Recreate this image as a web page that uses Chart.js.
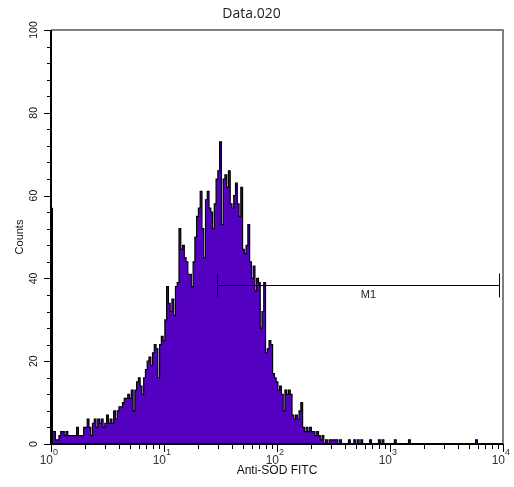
<!DOCTYPE html>
<html>
<head>
<meta charset="utf-8">
<title>Data.020</title>
<script src="https://cdn.jsdelivr.net/npm/chart.js@4.4.0/dist/chart.umd.min.js"></script>
<style>
  html, body { margin: 0; padding: 0; background: #fff; }
  #wrap { width: 514px; height: 487px; }
</style>
</head>
<body>
<div id="wrap"><canvas id="histo"></canvas></div>
<script>
// 256 channels across 4 log decades (64 channels per decade)
const counts = [
  57, 3, 3, 1, 1, 2, 3, 3, 2, 3,
  2, 2, 2, 2, 2, 4, 2, 2, 2, 4,
  4, 6, 4, 2, 5, 6, 4, 6, 5, 6,
  4, 5, 7, 5, 6, 5, 8, 6, 8, 9,
  9, 10, 11, 11, 12, 11, 13, 8, 13, 15,
  16, 14, 12, 16, 18, 20, 21, 19, 22, 24,
  23, 16, 24, 26, 25, 30, 38, 34, 32, 35,
  31, 38, 39, 52, 47, 48, 45, 44, 41, 41,
  38, 44, 50, 55, 57, 61, 52, 45, 59, 61,
  57, 56, 52, 58, 64, 66, 73, 53, 64, 65,
  62, 66, 58, 57, 60, 63, 58, 55, 62, 47,
  46, 48, 53, 44, 40, 43, 37, 40, 39, 28,
  32, 39, 22, 23, 25, 24, 17, 16, 15, 13,
  14, 12, 8, 13, 12, 13, 12, 7, 6, 7,
  6, 8, 10, 4, 3, 4, 3, 4, 3, 3,
  2, 3, 2, 1, 2, 0, 1, 0, 1, 1,
  1, 1, 1, 0, 1, 0, 0, 0, 0, 1,
  0, 0, 1, 0, 1, 0, 1, 0, 0, 0,
  0, 1, 0, 0, 0, 0, 1, 0, 1, 0,
  0, 0, 0, 0, 0, 1, 0, 0, 0, 0,
  0, 0, 0, 1, 0, 0, 0, 0, 0, 0,
  0, 0, 0, 0, 0, 0, 0, 0, 0, 0,
  0, 0, 0, 0, 0, 0, 0, 0, 0, 0,
  0, 0, 0, 0, 0, 0, 0, 0, 0, 0,
  0, 1, 0, 0, 0, 0, 0, 0, 0, 0,
  0, 0, 0, 0, 0, 0
];
const decadeExponents = ['0', '1', '2', '3', '4'];
const channelsPerDecade = 64;
const yTicks = [0, 20, 40, 60, 80, 100];
const m1Range = [94, 254];   // channels
const m1Level = 38.5;        // counts

const points = counts.map((c, i) => ({ x: i, y: c }));

// --- axes, ticks, labels and the M1 marker, drawn like CellQuest ---
const facsAxes = {
  id: 'facsAxes',
  afterDatasetsDraw(chart) {
    const { ctx, chartArea: a, scales: { x, y } } = chart;
    ctx.save();

    // frame
    ctx.strokeStyle = '#555';
    ctx.lineWidth = 1.5;
    ctx.beginPath();
    ctx.moveTo(a.left, a.top);
    ctx.lineTo(a.right, a.top);
    ctx.lineTo(a.right, a.bottom);
    ctx.stroke();
    ctx.strokeStyle = '#000';
    ctx.lineWidth = 2;
    ctx.beginPath();
    ctx.moveTo(a.left, a.top);
    ctx.lineTo(a.left, a.bottom);
    ctx.lineTo(a.right, a.bottom);
    ctx.stroke();
    // first channel piles up on the axis
    ctx.lineWidth = 3;
    ctx.beginPath();
    ctx.moveTo(a.left + 0.5, a.bottom);
    ctx.lineTo(a.left + 0.5, y.getPixelForValue(counts[0]));
    ctx.stroke();

    // y ticks, major every 20, minor every 4
    ctx.lineWidth = 1;
    for (let v = 0; v <= 100; v += 4) {
      const py = Math.round(y.getPixelForValue(v)) + 0.5;
      const len = v % 20 === 0 ? 7 : 4;
      ctx.beginPath();
      ctx.moveTo(a.left - len, py);
      ctx.lineTo(a.left, py);
      ctx.stroke();
    }
    ctx.fillStyle = '#111';
    ctx.font = '10.5px "Liberation Sans", Arial, sans-serif';
    ctx.textAlign = 'center';
    ctx.textBaseline = 'middle';
    yTicks.forEach(v => {
      ctx.save();
      ctx.translate(34, y.getPixelForValue(v));
      ctx.rotate(-Math.PI / 2);
      ctx.fillText(String(v), 0, 0);
      ctx.restore();
    });

    // x ticks: log decades with 2..9 minors
    for (let d = 0; d < decadeExponents.length; d++) {
      for (let k = 1; k <= 9; k++) {
        if (d === decadeExponents.length - 1 && k > 1) break;
        const ch = channelsPerDecade * (d + Math.log10(k));
        const px = Math.round(x.getPixelForValue(ch)) + 0.5;
        const len = k === 1 ? 8 : 5;
        ctx.beginPath();
        ctx.moveTo(px, a.bottom);
        ctx.lineTo(px, a.bottom + len);
        ctx.stroke();
      }
    }
    ctx.fillStyle = '#333';
    decadeExponents.forEach((e, d) => {
      const px = x.getPixelForValue(channelsPerDecade * d);
      ctx.textAlign = 'right';
      ctx.textBaseline = 'alphabetic';
      ctx.font = '12px "Liberation Sans", Arial, sans-serif';
      ctx.fillText('10', px + 2, 464);
      ctx.textAlign = 'left';
      ctx.font = '9px "Liberation Sans", Arial, sans-serif';
      ctx.fillText(e, px + 2, 455);
    });

    // M1 marker
    const x0 = Math.round(x.getPixelForValue(m1Range[0])) + 0.5;
    const x1 = Math.round(x.getPixelForValue(m1Range[1])) + 0.5;
    const my = Math.round(y.getPixelForValue(m1Level)) + 0.5;
    ctx.strokeStyle = '#000';
    ctx.lineWidth = 1;
    ctx.beginPath();
    ctx.moveTo(x0, my); ctx.lineTo(x1, my);
    ctx.moveTo(x0, my - 12); ctx.lineTo(x0, my + 12);
    ctx.moveTo(x1, my - 12); ctx.lineTo(x1, my + 12);
    ctx.stroke();
    ctx.font = '11px "Liberation Sans", Arial, sans-serif';
    ctx.textAlign = 'center';
    ctx.textBaseline = 'middle';
    ctx.fillStyle = '#222';
    ctx.fillText('M1', (x0 + x1) / 2 + 10, my + 9);

    ctx.restore();
  }
};

Chart.defaults.font.family = '"Liberation Sans", Arial, sans-serif';
Chart.defaults.color = '#111';

new Chart(document.getElementById('histo'), {
  type: 'line',
  data: {
    datasets: [{
      label: 'Counts',
      data: points,
      borderColor: '#000',
      borderWidth: 1.2,
      backgroundColor: 'rgb(84, 0, 192)',
      fill: 'origin',
      stepped: 'middle',
      pointRadius: 0
    }]
  },
  options: {
    responsive: true,
    maintainAspectRatio: false,
    animation: false,
    layout: { padding: { left: 0, right: 11, top: 0, bottom: 0 } },
    plugins: {
      legend: { display: false },
      tooltip: { enabled: false },
      title: {
        display: true,
        text: 'Data.020',
        color: '#222',
        font: { family: '"Open Sans", sans-serif', size: 14, weight: 'normal' },
        padding: { top: 6, bottom: 7.2 }
      }
    },
    scales: {
      x: {
        type: 'linear',
        min: 0,
        max: channelsPerDecade * (decadeExponents.length - 1),
        grid: { display: false, drawTicks: false },
        border: { display: false },
        ticks: { display: false },
        title: {
          display: true,
          text: 'Anti-SOD FITC',
          font: { size: 12 },
          padding: { top: 19.8, bottom: 8.8 }
        }
      },
      y: {
        min: 0,
        max: 100,
        grid: { display: false, drawTicks: false },
        border: { display: false },
        ticks: { display: false },
        title: {
          display: true,
          text: 'Counts',
          font: { size: 11 },
          padding: { top: 13.4, bottom: 24.4 }
        }
      }
    }
  },
  plugins: [facsAxes]
});
</script>
</body>
</html>
